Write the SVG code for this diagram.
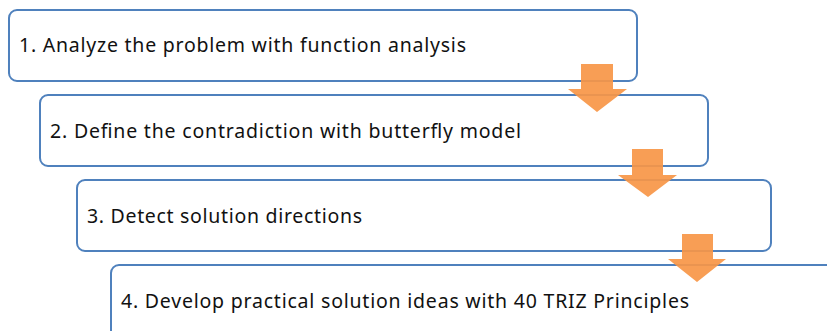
<svg xmlns="http://www.w3.org/2000/svg" width="827" height="331" viewBox="0 0 827 331">
<style>
.box{fill:#fff;stroke:#4f81bd;stroke-width:2}
.t{font-family:"Noto Sans","Noto Sans CJK KR",sans-serif;font-size:19.5px;fill:#111}
.arr{fill:#f79646;opacity:0.92}
</style>
<rect width="827" height="331" fill="#fff"/>
<g id="step1"><rect class="box" x="9" y="10" width="628" height="71" rx="8"/><text class="t" x="19" y="52" textLength="447">1. Analyze the problem with function analysis</text></g>
<g id="step2"><rect class="box" x="40" y="95" width="668" height="71" rx="8"/><text class="t" x="50" y="138" textLength="471">2. Define the contradiction with butterfly model</text></g>
<g id="step3"><rect class="box" x="77" y="180" width="694" height="71" rx="8"/><text class="t" x="87" y="223" textLength="275">3. Detect solution directions</text></g>
<g id="step4"><rect class="box" x="111" y="265" width="740" height="90" rx="8"/><text class="t" x="121" y="308" textLength="568">4. Develop practical solution ideas with 40 TRIZ Principles</text></g>
<g id="connectors">
<polygon class="arr" points="581,64 613,64 613,89 627,89 597,112 568,89 581,89"/>
<polygon class="arr" points="632,149 663,149 663,175 677,175 648,197 618,175 632,175"/>
<polygon class="arr" points="682,234 713,234 713,259 726,259 697,282 668,259 682,259"/>
</g>
</svg>
